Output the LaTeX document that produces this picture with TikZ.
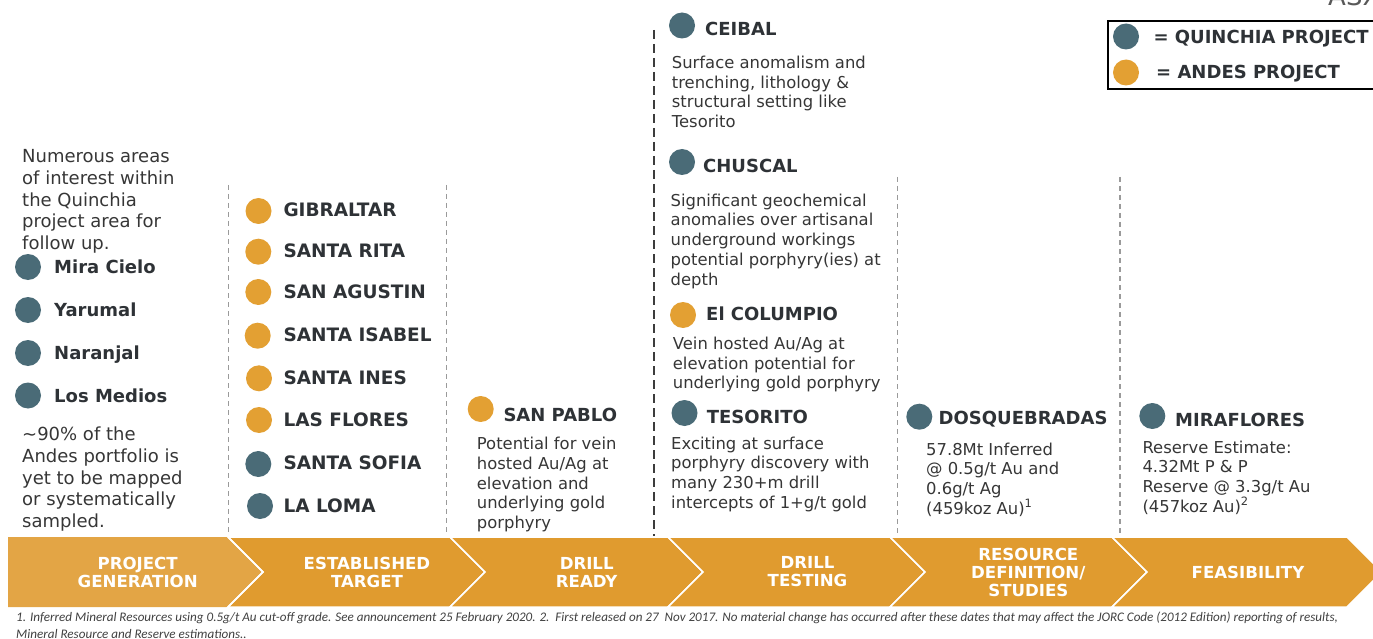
\documentclass[tikz,border=0pt]{standalone}
\usepackage{fontspec}
\setmainfont{DejaVu Sans}
\newfontfamily\notefont{Carlito}
\definecolor{qblue}{HTML}{4A6B77}
\definecolor{aorange}{HTML}{E3A033}
\definecolor{barmain}{HTML}{E09B2F}
\definecolor{barfirst}{HTML}{E3A545}
\definecolor{darktext}{HTML}{2E3236}
\definecolor{bodytext}{HTML}{363636}
\definecolor{sepgray}{HTML}{9A9A9A}
\definecolor{darksep}{HTML}{3C3C3C}
\definecolor{notegray}{HTML}{404040}
\begin{document}
\begin{tikzpicture}[x=1pt,y=-1pt,
  qdot/.style={circle, fill=qblue, minimum size=26pt, inner sep=0pt},
  adot/.style={circle, fill=aorange, minimum size=26pt, inner sep=0pt},
  site/.style={anchor=base west, inner sep=0pt, text=darktext, font=\bfseries\fontsize{18}{21}\selectfont},
  sitewide/.style={site, font=\bfseries\fontsize{18.5}{21}\selectfont},
  desc/.style={anchor=north west, inner sep=0pt, align=left, text=bodytext, font=\fontsize{16.4}{19.7}\selectfont},
  leftdesc/.style={anchor=north west, inner sep=0pt, align=left, text=bodytext, font=\fontsize{18}{21.6}\selectfont},
  phase/.style={text=white, font=\bfseries\fontsize{16.6}{18}\selectfont, align=center, inner sep=0pt},
  chev/.style={fill=barmain, draw=white, line width=1.5pt},
  vsep/.style={draw=sepgray, line width=1.2pt, dash pattern=on 5pt off 4pt},
  vmain/.style={draw=darksep, line width=2.2pt, dash pattern=on 9pt off 5pt},
  note/.style={anchor=base west, inner sep=0pt, text=notegray, font=\notefont\itshape\fontsize{13.1}{16}\selectfont}
]
\useasboundingbox (0,0) rectangle (1373,639);

% separators
\coordinate (s1t) at (228.5,185); \coordinate (s1b) at (228.5,535);
\coordinate (s2t) at (446.7,185); \coordinate (s2b) at (446.7,535);
\coordinate (s3t) at (654.3,30);  \coordinate (s3b) at (654.3,536);
\coordinate (s4t) at (897.3,177); \coordinate (s4b) at (897.3,535);
\coordinate (s5t) at (1120,177);  \coordinate (s5b) at (1120,535);
\draw[vsep] (s1t) -- (s1b);
\draw[vsep] (s2t) -- (s2b);
\draw[vmain] (s3t) -- (s3b);
\draw[vsep] (s4t) -- (s4b);
\draw[vsep] (s5t) -- (s5b);

% chevron bar
\fill[barfirst] (8,537) -- (228,537) -- (263,572) -- (228,607) -- (8,607) -- cycle;
\draw[chev] (228,537) -- (450,537) -- (485,572) -- (450,607) -- (228,607) -- (263,572) -- cycle;
\draw[chev] (450,537) -- (668,537) -- (703,572) -- (668,607) -- (450,607) -- (485,572) -- cycle;
\draw[chev] (668,537) -- (890,537) -- (925,572) -- (890,607) -- (668,607) -- (703,572) -- cycle;
\draw[chev] (890,537) -- (1112,537) -- (1147,572) -- (1112,607) -- (890,607) -- (925,572) -- cycle;
\draw[chev] (1112,537) -- (1347,537) -- (1382,572) -- (1347,607) -- (1112,607) -- (1147,572) -- cycle;
\draw[white, line width=1.5pt] (228,537) -- (263,572) -- (228,607);

\node[phase] (p1) at (137.7,572) {PROJECT\\GENERATION};
\node[phase] (p2) at (367,572) {ESTABLISHED\\TARGET};
\node[phase] (p3) at (586.7,572) {DRILL\\READY};
\node[phase] (p4) at (807.5,572) {DRILL\\TESTING};
\node[phase] (p5) at (1028.3,572.5) {RESOURCE\\DEFINITION/\\STUDIES};
\node[phase] (p6) at (1248,572) {FEASIBILITY};

% legend
\draw[line width=2pt, black] (1108.3,20.7) rectangle (1390,89.3);
\node[qdot] (lq) at (1126,36.5) {};
\node[adot] (la) at (1126,72.5) {};
\node[site] (lqt) at (1153.3,43.5) {= QUINCHIA PROJECT};
\node[site] (lat) at (1156,78.7) {= ANDES PROJECT};
\node[anchor=base west, inner sep=0pt, text=black!65, font=\fontsize{26}{30}\selectfont] (asx) at (1328,6) {ASX};

% column 1
\node[leftdesc] (c1a) at (22,149.5) {Numerous areas\\of interest within\\the Quinchia\\project area for\\follow up.};
\node[qdot] (d1) at (28,267) {}; \node[site] (n1) at (54,273.3) {Mira Cielo};
\node[qdot] (d2) at (28,310) {}; \node[site] (n2) at (54,316.3) {Yarumal};
\node[qdot] (d3) at (28,353) {}; \node[site] (n3) at (54,359.3) {Naranjal};
\node[qdot] (d4) at (28,395.5) {}; \node[site] (n4) at (54,402) {Los Medios};
\node[leftdesc] (c1b) at (22,427) {\textasciitilde90\% of the\\Andes portfolio is\\yet to be mapped\\or systematically\\sampled.};

% column 2
\node[adot] (e1) at (258.5,211) {};   \node[sitewide] (m1) at (283.3,216.7) {GIBRALTAR};
\node[adot] (e2) at (258.3,251.7) {}; \node[sitewide] (m2) at (283.3,258) {SANTA RITA};
\node[adot] (e3) at (258.3,292) {};   \node[sitewide] (m3) at (283.3,298.5) {SAN AGUSTIN};
\node[adot] (e4) at (257.7,335.7) {}; \node[sitewide] (m4) at (283.3,341.5) {SANTA ISABEL};
\node[adot] (e5) at (259,378.3) {};   \node[sitewide] (m5) at (283.3,384.5) {SANTA INES};
\node[adot] (e6) at (259,420) {};     \node[sitewide] (m6) at (283.3,426.5) {LAS FLORES};
\node[qdot] (e7) at (258.3,464) {};   \node[sitewide] (m7) at (283.3,469.5) {SANTA SOFIA};
\node[qdot] (e8) at (260,506) {};     \node[sitewide] (m8) at (283.3,512) {LA LOMA};

% column 3
\node[adot] (sp) at (480.7,409) {}; \node[site] (spn) at (503.3,421) {SAN PABLO};
\node[desc] (spd) at (476.7,437) {Potential for vein\\hosted Au/Ag at\\elevation and\\underlying gold\\porphyry};

% column 4
\node[qdot] (ce) at (682,25.5) {}; \node[site] (cen) at (705,36) {CEIBAL};
\node[desc] (ced) at (671.7,55.9) {Surface anomalism and\\trenching, lithology \&\\structural setting like\\Tesorito};
\node[qdot] (ch) at (682,162) {}; \node[site] (chn) at (703,172.6) {CHUSCAL};
\node[desc] (chd) at (670.5,193.6) {Significant geochemical\\anomalies over artisanal\\underground workings\\potential porphyry(ies) at\\depth};
\node[adot] (co) at (683,315) {}; \node[site] (con) at (706,320.7) {El COLUMPIO};
\node[desc] (cod) at (672.7,336.9) {Vein hosted Au/Ag at\\elevation potential for\\underlying gold porphyry};
\node[qdot] (te) at (684.5,413) {}; \node[site] (ten) at (706.7,423.3) {TESORITO};
\node[desc] (ted) at (671,436.4) {Exciting at surface\\porphyry discovery with\\many 230+m drill\\intercepts of 1+g/t gold};

% column 5
\node[qdot] (dq) at (919.3,416.7) {}; \node[site] (dqn) at (938.5,424.3) {DOSQUEBRADAS};
\node[desc] (dqd) at (926,442.4) {57.8Mt Inferred\\@ 0.5g/t Au and\\0.6g/t Ag\\(459koz Au)\textsuperscript{1}};

% column 6
\node[qdot] (mf) at (1152.3,416) {}; \node[site] (mfn) at (1175,426.7) {MIRAFLORES};
\node[desc] (mfd) at (1142.3,440.4) {Reserve Estimate:\\4.32Mt P \& P\\Reserve @ 3.3g/t Au\\(457koz Au)\textsuperscript{2}};

% footnote
\node[note] (fn1) at (16,621.2) {1. Inferred Mineral Resources using 0.5g/t Au cut-off grade. See announcement 25 February 2020. 2.\ \ First released on 27\ \ Nov 2017. No material change has occurred after these dates that may affect the JORC Code (2012 Edition) reporting of results,};
\node[note] (fn2) at (16,638) {Mineral Resource and Reserve estimations..};
\end{tikzpicture}
\end{document}
